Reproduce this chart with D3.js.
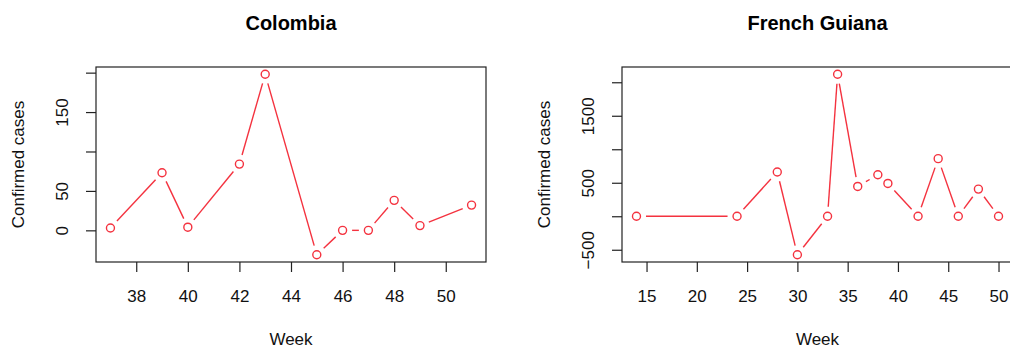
<!DOCTYPE html>
<html>
<head>
<meta charset="utf-8">
<script src="https://cdn.jsdelivr.net/npm/d3@7"></script>
<style>
  body { margin: 0; background: #fff; }
  svg { font-family: "Liberation Sans", Arial, sans-serif; }
</style>
</head>
<body>
<div id="vis"></div>
<script>
const WIDTH = 1010;
const HEIGHT = 348;

// datos
const colWeeks = [37, 39, 40, 42, 43, 45, 46, 47, 48, 49, 51];
const colCases = [3, 73, 4, 84, 198, -31, 0, 0, 38, 6, 32];
const colXTicks = [38, 40, 42, 44, 46, 48, 50];
const colYTicks = [0, 50, 100, 150, 200];
const colYLabels = ["0", "50", "", "150", ""];

const fgWeeks = [14, 24, 28, 30, 33, 34, 36, 38, 39, 42, 44, 46, 48, 50];
const fgCases = [0, 0, 660, -575, 0, 2120, 445, 620, 490, 0, 860, 0, 405, 0];
const fgXTicks = [15, 20, 25, 30, 35, 40, 45, 50];
const fgYTicks = [-500, 0, 500, 1000, 1500, 2000];
const fgYLabels = ["\u2212500", "", "500", "", "1500", ""];

const RED = '#f4323f';

const SVG = d3.select('#vis').append('svg')
    .attr('width', WIDTH).attr('height', HEIGHT);

// extiende el dominio 4% como R
function ext(v) {
    const [a, b] = d3.extent(v);
    const p = (b - a) * 0.04;
    return [a - p, b + p];
}

function panel(opt) {
    const top = 67, bottom = 262;
    const x = d3.scaleLinear().domain(ext(opt.weeks)).range([opt.left, opt.right]);
    const y = d3.scaleLinear().domain(ext(opt.cases)).range([bottom, top]);
    const g = SVG.append('g');

    // titulo
    g.append('text').text(opt.title)
        .attr('x', (opt.left + opt.right) / 2).attr('y', 30)
        .attr('text-anchor', 'middle').attr('font-weight', 'bold')
        .attr('font-size', 20).attr('fill', '#000');

    // caja
    g.append('rect').attr('x', opt.left).attr('y', top)
        .attr('width', opt.right - opt.left).attr('height', bottom - top)
        .attr('fill', 'none').attr('stroke', '#222').attr('stroke-width', 1.2);

    // eje x
    const gx = g.append('g').attr('transform', `translate(0, ${bottom})`)
        .call(d3.axisBottom(x).tickValues(opt.xTicks).tickSize(10).tickFormat(d3.format('d')));
    gx.select('.domain').remove();
    gx.selectAll('line').attr('stroke', '#222').attr('stroke-width', 1.2);
    gx.selectAll('text').attr('y', 40).attr('dy', null)
        .attr('font-size', 17).attr('fill', '#111');

    // eje y
    const gy = g.append('g').attr('transform', `translate(${opt.left}, 0)`)
        .call(d3.axisLeft(y).tickValues(opt.yTicks).tickSize(10)
            .tickFormat((d, i) => opt.yLabels[i]));
    gy.select('.domain').remove();
    gy.selectAll('line').attr('stroke', '#222').attr('stroke-width', 1.2);
    gy.selectAll('text')
        .attr('x', null).attr('dy', null)
        .attr('text-anchor', 'middle').attr('font-size', 17).attr('fill', '#111')
        .attr('transform', 'translate(-28, 0) rotate(-90)');

    // etiquetas de ejes
    g.append('text').text('Week')
        .attr('x', (opt.left + opt.right) / 2).attr('y', 345)
        .attr('text-anchor', 'middle').attr('font-size', 17).attr('fill', '#111');
    g.append('text').text('Confirmed cases')
        .attr('transform', `translate(${opt.left - 72}, ${(top + bottom) / 2}) rotate(-90)`)
        .attr('text-anchor', 'middle').attr('font-size', 17).attr('fill', '#111');

    // lineas tipo "b" (con huecos alrededor de los puntos)
    const pts = opt.weeks.map((w, i) => [x(w), y(opt.cases[i])]);
    const GAP = 9.5;
    const segs = [];
    for (let i = 0; i < pts.length - 1; i++) {
        const [x0, y0] = pts[i], [x1, y1] = pts[i + 1];
        const d = Math.hypot(x1 - x0, y1 - y0);
        if (d > 2 * GAP) {
            const ux = (x1 - x0) / d, uy = (y1 - y0) / d;
            segs.push([x0 + ux * GAP, y0 + uy * GAP, x1 - ux * GAP, y1 - uy * GAP]);
        }
    }
    g.selectAll('line.seg').data(segs).join('line').attr('class', 'seg')
        .attr('x1', d => d[0]).attr('y1', d => d[1])
        .attr('x2', d => d[2]).attr('y2', d => d[3])
        .attr('stroke', RED).attr('stroke-width', 1.4);

    g.selectAll('circle').data(pts).join('circle')
        .attr('cx', d => d[0]).attr('cy', d => d[1]).attr('r', 4)
        .attr('fill', 'none').attr('stroke', RED).attr('stroke-width', 1.4);
}

panel({ title: 'Colombia', weeks: colWeeks, cases: colCases, left: 96, right: 486,
        xTicks: colXTicks, yTicks: colYTicks, yLabels: colYLabels });
panel({ title: 'French Guiana', weeks: fgWeeks, cases: fgCases, left: 622, right: 1013,
        xTicks: fgXTicks, yTicks: fgYTicks, yLabels: fgYLabels });
</script>
</body>
</html>
